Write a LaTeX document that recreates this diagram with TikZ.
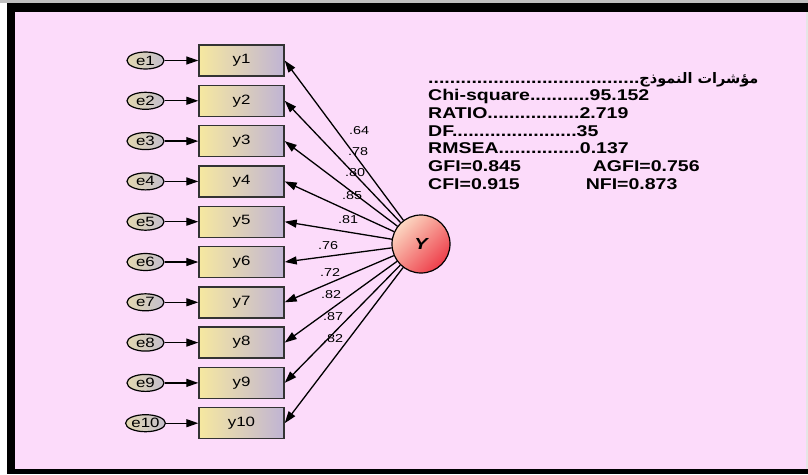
\documentclass[tikz,border=0pt]{standalone}
\usepackage{fontspec}
\setmainfont[FakeStretch=1.25]{Liberation Sans}
\newfontfamily\arabicfont[Script=Arabic]{DejaVu Sans}
\usetikzlibrary{arrows.meta,shapes.geometric}
\TeXXeTstate=1
\definecolor{pinkbg}{RGB}{252,219,250}
\definecolor{boxleft}{RGB}{246,232,160}
\definecolor{boxright}{RGB}{192,180,212}
\definecolor{errleft}{RGB}{226,216,176}
\definecolor{errright}{RGB}{196,190,204}
\definecolor{latlight}{RGB}{252,216,194}
\definecolor{latdark}{RGB}{238,62,74}
\tikzset{
  obs/.style={draw=black!80, line width=1.4pt, minimum width=85pt, minimum height=31pt,
    inner sep=0pt, left color=boxleft, right color=boxright, font=\fontsize{13.5}{15}\selectfont},
  err/.style={ellipse, draw, line width=1.2pt, minimum width=37pt, minimum height=17pt,
    inner sep=0pt, left color=errleft, right color=errright, font=\fontsize{13.5}{15}\selectfont},
  lat/.style={circle, draw, line width=1.2pt, minimum size=58pt, top color=latlight,
    bottom color=latdark, shading angle=45, font=\fontsize{16}{17}\selectfont\bfseries\itshape},
  arr/.style={line width=1.3pt, -{Triangle[length=12pt,width=8pt]}},
  coef/.style={font=\fontsize{11.5}{13}\selectfont, inner sep=0pt},
  stat/.style={font=\fontsize{15.6}{18}\selectfont\bfseries, anchor=base west, inner sep=0pt}
}
\begin{document}
\begin{tikzpicture}[x=1pt, y=-1pt]
\useasboundingbox (0,0) rectangle (808,474);

% Cadre et fond
\fill[white] (0,0) rectangle (808,474);
\fill[black!25] (0,0) rectangle (808,3);
\fill[black] (7,3) rectangle (808,474);
\fill[pinkbg] (15,12) rectangle (806,469);
\fill[black!10] (806,12) rectangle (808,469);

% Erreurs
\node[err] (e1) at (145.5,60.5) {e1};
\node[err] (e2) at (145.5,100.8) {e2};
\node[err] (e3) at (145.5,141.1) {e3};
\node[err] (e4) at (145.5,181.4) {e4};
\node[err] (e5) at (145.5,221.7) {e5};
\node[err] (e6) at (145.5,262) {e6};
\node[err] (e7) at (145.5,302.3) {e7};
\node[err] (e8) at (145.5,342.6) {e8};
\node[err] (e9) at (145.5,382.9) {e9};
\node[err] (e10) at (145.5,423.2) {e10};

% Variables observees
\node[obs] (y1) at (241.5,60.5) {y1};
\node[obs] (y2) at (241.5,100.8) {y2};
\node[obs] (y3) at (241.5,141.1) {y3};
\node[obs] (y4) at (241.5,181.4) {y4};
\node[obs] (y5) at (241.5,221.7) {y5};
\node[obs] (y6) at (241.5,262) {y6};
\node[obs] (y7) at (241.5,302.3) {y7};
\node[obs] (y8) at (241.5,342.6) {y8};
\node[obs] (y9) at (241.5,382.9) {y9};
\node[obs] (y10) at (241.5,423.2) {y10};

% Variable latente
\node[lat] (Y) at (421,244) {Y};

% Fleches erreur -> indicateur
\draw[arr] (e1) -- (y1);
\draw[arr] (e2) -- (y2);
\draw[arr] (e3) -- (y3);
\draw[arr] (e4) -- (y4);
\draw[arr] (e5) -- (y5);
\draw[arr] (e6) -- (y6);
\draw[arr] (e7) -- (y7);
\draw[arr] (e8) -- (y8);
\draw[arr] (e9) -- (y9);
\draw[arr] (e10) -- (y10);

% Saturations
\draw[arr] (Y) -- (y1.east);
\draw[arr] (Y) -- (y2.east);
\draw[arr] (Y) -- (y3.east);
\draw[arr] (Y) -- (y4.east);
\draw[arr] (Y) -- (y5.east);
\draw[arr] (Y) -- (y6.east);
\draw[arr] (Y) -- (y7.east);
\draw[arr] (Y) -- (y8.east);
\draw[arr] (Y) -- (y9.east);
\draw[arr] (Y) -- (y10.east);
\node[coef] (c1) at (359,131) {.64};
\node[coef] (c2) at (358,152) {.78};
\node[coef] (c3) at (355,173) {.80};
\node[coef] (c4) at (352,196) {.85};
\node[coef] (c5) at (348,220) {.81};
\node[coef] (c6) at (328,246) {.76};
\node[coef] (c7) at (330,272) {.72};
\node[coef] (c8) at (331,295) {.82};
\node[coef] (c9) at (333,317) {.87};
\node[coef] (c10) at (333,339) {.82};

% Indices d'ajustement
\node[stat] (s0) at (428,83) {.......................................{\arabicfont\fontsize{14.5}{16}\selectfont\beginR مؤشرات النموذج\endR}};
\node[stat] (s1) at (428,100.7) {Chi-square...........95.152};
\node[stat] (s2) at (428,118.4) {RATIO.................2.719};
\node[stat] (s3) at (428,136.1) {DF.......................35};
\node[stat] (s4) at (428,153.8) {RMSEA...............0.137};
\node[stat] (s5) at (428,171.5) {GFI=0.845\hspace{72pt}AGFI=0.756};
\node[stat] (s6) at (428,189.2) {CFI=0.915\hspace{66pt}NFI=0.873};
\end{tikzpicture}
\end{document}
